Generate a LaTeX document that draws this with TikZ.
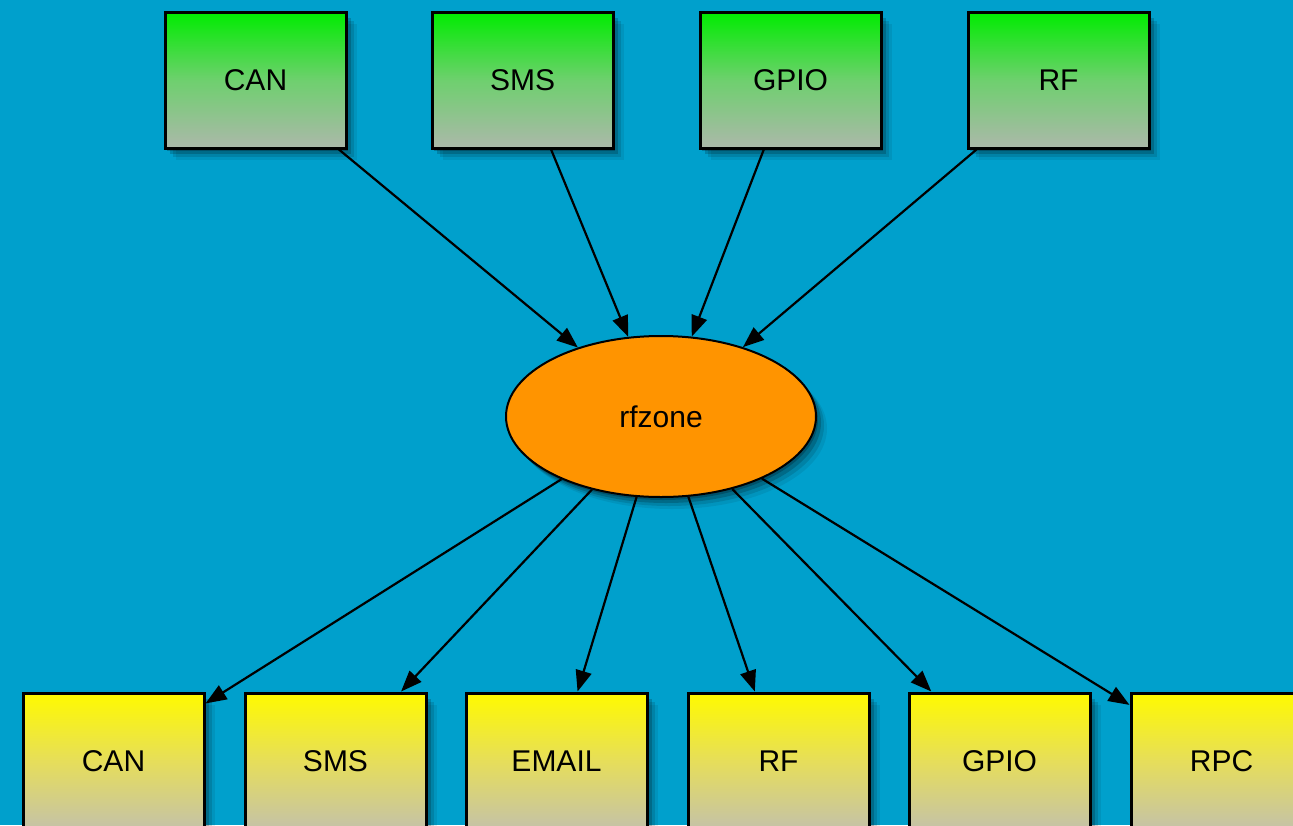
\documentclass[tikz,border=0pt]{standalone}
\usepackage{fontspec}
\setmainfont{Liberation Sans}
\usetikzlibrary{arrows.meta,shapes.geometric,shadows}
\definecolor{bgblue}{RGB}{0,160,204}
\definecolor{srcgreen}{RGB}{0,236,0}
\definecolor{srcmid}{RGB}{110,208,110}
\definecolor{srcgray}{RGB}{172,184,170}
\definecolor{dstyellow}{RGB}{255,250,0}
\definecolor{dstmid}{RGB}{230,222,90}
\definecolor{dstgray}{RGB}{196,194,168}
\definecolor{hub}{RGB}{255,148,0}
\tikzset{
  softshadow/.style={
    drop shadow={shadow xshift=2pt,shadow yshift=-3pt,opacity=0.22,fill=black},
    drop shadow={shadow xshift=5pt,shadow yshift=-6pt,opacity=0.18,fill=black},
    drop shadow={shadow xshift=8pt,shadow yshift=-9pt,opacity=0.12,fill=black},
    drop shadow={shadow xshift=11pt,shadow yshift=-12pt,opacity=0.07,fill=black}},
  srcbox/.style={rectangle,draw=black,line width=3pt,minimum width=181pt,
    minimum height=136pt,inner sep=0pt,top color=srcgreen,bottom color=srcgray,
    middle color=srcmid,softshadow,font=\fontsize{30}{36}\selectfont},
  dstbox/.style={rectangle,draw=black,line width=3pt,minimum width=181pt,
    minimum height=136pt,inner sep=0pt,top color=dstyellow,bottom color=dstgray,
    middle color=dstmid,softshadow,font=\fontsize{30}{36}\selectfont},
  hubnode/.style={ellipse,draw=black,line width=2pt,fill=hub,minimum width=310pt,
    minimum height=161pt,inner sep=0pt,softshadow,font=\fontsize{30}{36}\selectfont},
  link/.style={line width=2.2pt,-{Triangle[length=21pt,width=16pt]}}
}
\begin{document}
\begin{tikzpicture}[x=1pt,y=-1pt]
  \useasboundingbox (0,0) rectangle (1293,825);
  \clip (0,0) rectangle (1293,825);
  \fill[bgblue] (0,0) rectangle (1293,825);

  % sources
  \node[srcbox] (inCAN)  at (255.5,80) {CAN};
  \node[srcbox] (inSMS)  at (522.5,80) {SMS};
  \node[srcbox] (inGPIO) at (790.5,80) {GPIO};
  \node[srcbox] (inRF)   at (1058.5,80) {RF};

  % hub
  \node[hubnode] (hub) at (661,416.5) {rfzone};

  % sinks
  \node[dstbox] (outCAN)   at (113.5,761) {CAN};
  \node[dstbox] (outSMS)   at (335.5,761) {SMS};
  \node[dstbox] (outEMAIL) at (556.5,761) {EMAIL};
  \node[dstbox] (outRF)    at (778.5,761) {RF};
  \node[dstbox] (outGPIO)  at (999.5,761) {GPIO};
  \node[dstbox] (outRPC)   at (1221.5,761) {RPC};

  % connectors
  \foreach \s in {inCAN,inSMS,inGPIO,inRF}
    \draw[link] (\s) -- (hub);
  \foreach \t in {outCAN,outSMS,outEMAIL,outRF,outGPIO,outRPC}
    \draw[link] (hub) -- (\t);
\end{tikzpicture}
\end{document}
